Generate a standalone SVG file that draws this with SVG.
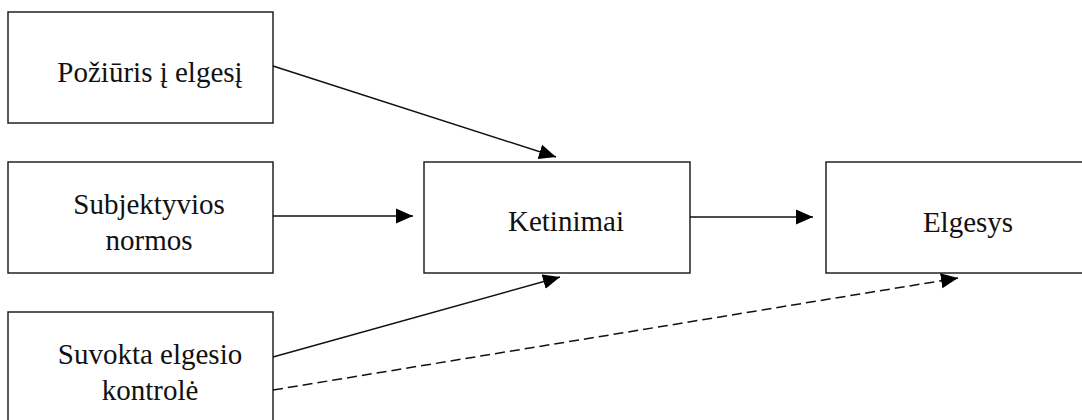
<svg xmlns="http://www.w3.org/2000/svg" width="1082" height="420" viewBox="0 0 1082 420">
  <style>
    .box { fill: #ffffff; stroke: #222222; stroke-width: 1.5; }
    .lbl { font-size: 29px; fill: #111111; text-anchor: middle; }
    .edge { fill: none; stroke: #111111; stroke-width: 1.5; }
    .dash { stroke-dasharray: 10 5; }
  </style>
  <defs>
    <marker id="arrow" markerUnits="userSpaceOnUse" markerWidth="18" markerHeight="16" viewBox="0 0 18 16" refX="17" refY="8" orient="auto">
      <polygon points="0,0.5 17,8 0,15.5" fill="#000000"/>
    </marker>
  </defs>
  <rect width="1082" height="420" fill="#ffffff"/>

  <g font-family="'Liberation Serif', 'DejaVu Serif', serif">
    <g id="attitude">
      <rect class="box" x="8" y="12" width="265" height="111"/>
      <text class="lbl" x="150" y="82">Požiūris į elgesį</text>
    </g>
    <g id="norms">
      <rect class="box" x="8" y="162" width="265" height="111"/>
      <text class="lbl" x="149" y="214">Subjektyvios</text>
      <text class="lbl" x="149" y="250">normos</text>
    </g>
    <g id="control">
      <rect class="box" x="8" y="312" width="265" height="120"/>
      <text class="lbl" x="150" y="364">Suvokta elgesio</text>
      <text class="lbl" x="150" y="400">kontrolė</text>
    </g>
    <g id="intention">
      <rect class="box" x="424" y="162" width="266" height="111"/>
      <text class="lbl" x="566" y="231">Ketinimai</text>
    </g>
    <g id="behaviour">
      <rect class="box" x="826" y="162" width="270" height="111"/>
      <text class="lbl" x="968" y="232">Elgesys</text>
    </g>
  </g>

  <g id="connectors">
    <line class="edge" x1="273" y1="66" x2="556" y2="157" marker-end="url(#arrow)"/>
    <line class="edge" x1="273" y1="216" x2="413" y2="216" marker-end="url(#arrow)"/>
    <line class="edge" x1="690" y1="217" x2="813" y2="217" marker-end="url(#arrow)"/>
    <line class="edge" x1="273" y1="357" x2="560" y2="277" marker-end="url(#arrow)"/>
    <line class="edge dash" x1="273" y1="390" x2="958" y2="278" marker-end="url(#arrow)"/>
  </g>
</svg>
